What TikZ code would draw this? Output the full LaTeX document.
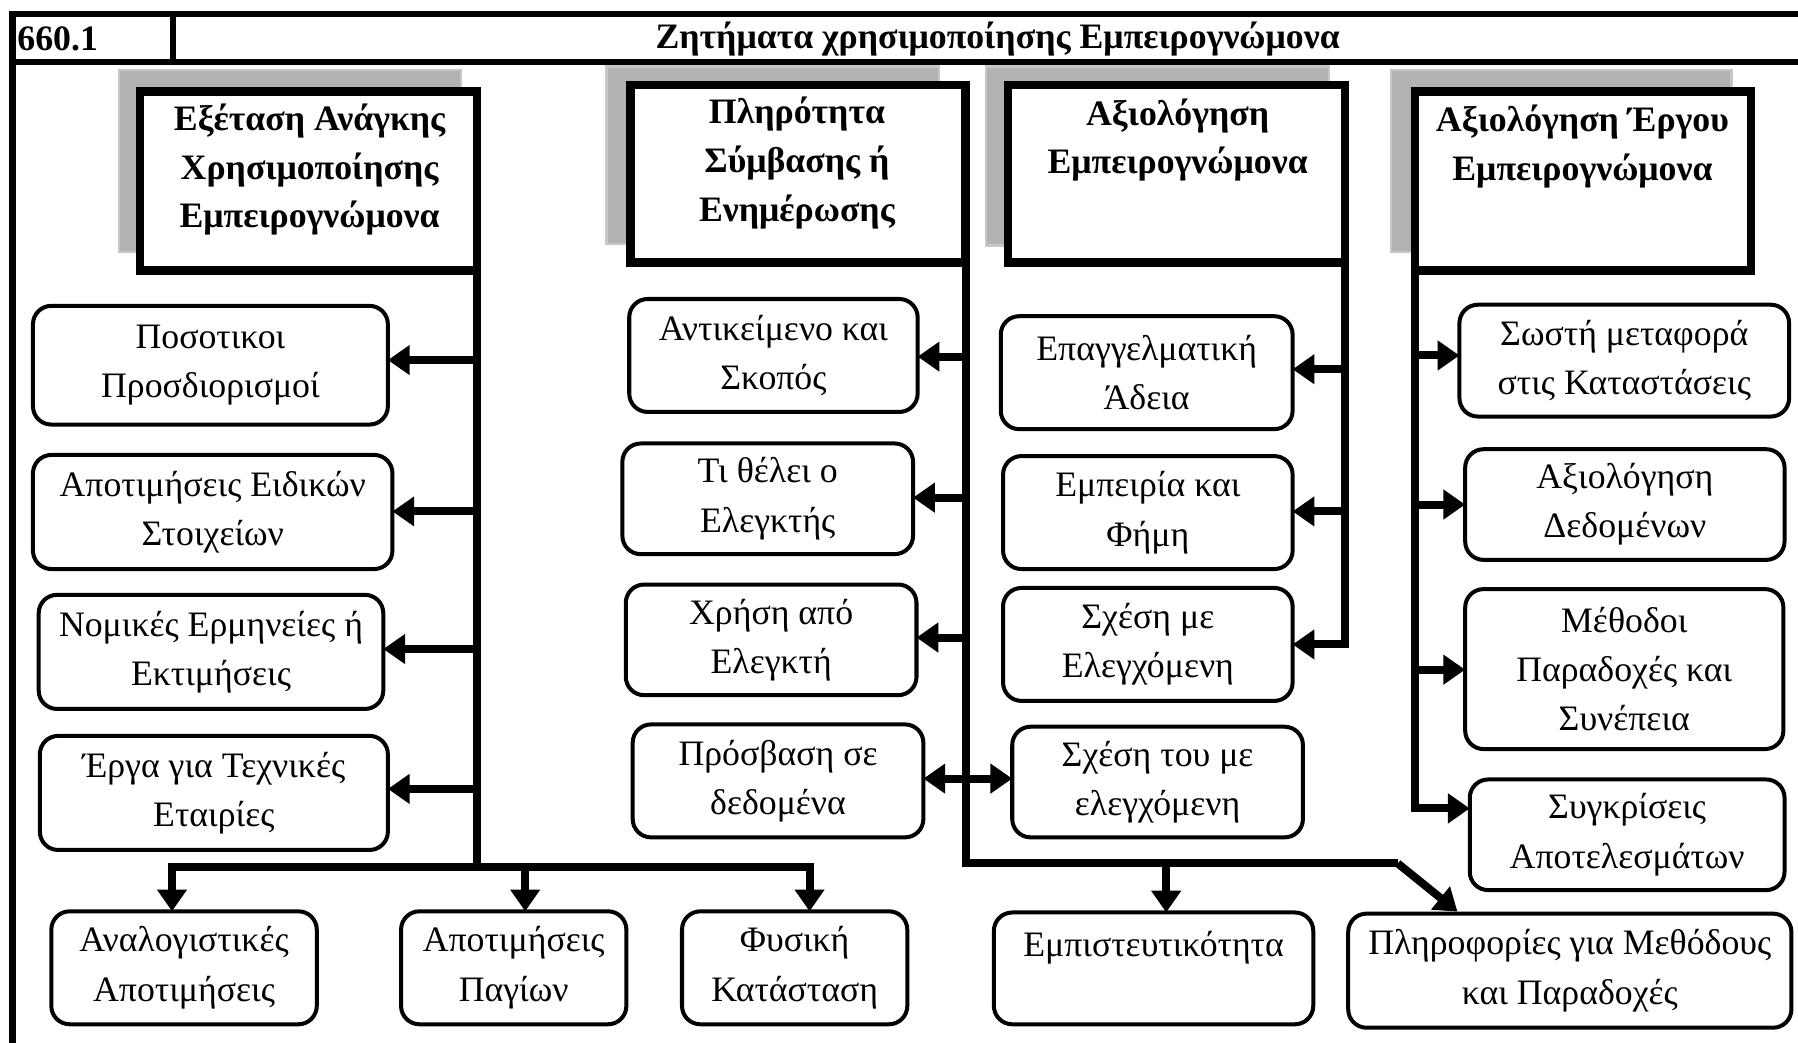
\documentclass[tikz,border=0pt]{standalone}
\usepackage{fontspec}
\setmainfont{Liberation Serif}
\usetikzlibrary{arrows.meta}
\begin{document}
\begin{tikzpicture}[x=1pt,y=-1pt,
  frame/.style={line width=5.5pt},
  shadowbox/.style={fill=black!30, draw=black!22, line width=2pt},
  hbox/.style={draw, line width=7.5pt, inner sep=0pt, outer sep=0pt, fill=white},
  htext/.style={align=center, font=\fontsize{31.2}{42.5}\selectfont\bfseries, inner sep=0pt},
  rbox/.style={draw, line width=3.5pt, rounded corners=16pt, inner sep=0pt, outer sep=0pt, align=center, font=\fontsize{31.2}{43}\selectfont, fill=white},
  conn/.style={line width=7pt},
  arr/.style={line width=7pt, -{Triangle[length=19pt,width=25pt]}},
  darr/.style={line width=7pt, {Triangle[length=19pt,width=25pt]}-{Triangle[length=19pt,width=25pt]}},
]
\useasboundingbox (0,0) rectangle (1568,909);
\fill[white] (0,0) rectangle (1568,909);
\clip (0,0) rectangle (1568,909);

% frame and header
\draw[frame] (11,12) rectangle (1600,940);
\draw[frame] (11,54) -- (1600,54);
\draw[frame] (151,12) -- (151,54);
\node[anchor=west, font=\fontsize{31.2}{36}\selectfont\bfseries, inner sep=0pt] (num) at (15,34) {660.1};
\node[font=\fontsize{31.2}{36}\selectfont\bfseries, inner sep=0pt] (title) at (870,34) {Ζητήματα χρησιμοποίησης Εμπειρογνώμονα};

% shadows
\fill[shadowbox] (104,61) rectangle (402,220);
\fill[shadowbox] (529,58) rectangle (819,213);
\fill[shadowbox] (860,58) rectangle (1159,214);
\fill[shadowbox] (1213,61) rectangle (1510,220);

% header boxes
\node[hbox, minimum width=294pt, minimum height=156pt] (h1) at (269,158) {};
\node[hbox, minimum width=292pt, minimum height=155pt] (h2) at (696,151.5) {};
\node[hbox, minimum width=294pt, minimum height=155pt] (h3) at (1026,151.5) {};
\node[hbox, minimum width=293pt, minimum height=156pt] (h4) at (1380.5,158) {};
\node[htext] (h1t) at (270,148) {Εξέταση Ανάγκης\\Χρησιμοποίησης\\Εμπειρογνώμονα};
\node[htext] (h2t) at (695,142) {Πληρότητα\\Σύμβασης ή\\Ενημέρωσης};
\node[htext] (h3t) at (1027,122) {Αξιολόγηση\\Εμπειρογνώμονα};
\node[htext] (h4t) at (1380,128) {Αξιολόγηση Έργου\\Εμπειρογνώμονα};

% column 1 children
\node[rbox, minimum width=309.5pt, minimum height=103.5pt] (c11) at (183.5,318.5) {Ποσοτικοι\\Προσδιορισμοί};
\node[rbox, minimum width=313.5pt, minimum height=99.5pt] (c12) at (185.5,446.5) {Αποτιμήσεις Ειδικών\\Στοιχείων};
\node[rbox, minimum width=300.5pt, minimum height=99.5pt] (c13) at (184,568.5) {Νομικές Ερμηνείες ή\\Εκτιμήσεις};
\node[rbox, minimum width=303.5pt, minimum height=99.5pt] (c14) at (186.5,691.5) {Έργα για Τεχνικές\\Εταιρίες};

% column 2 children
\node[rbox, minimum width=251.5pt, minimum height=98.5pt] (c21) at (674.5,310) {Αντικείμενο και\\Σκοπός};
\node[rbox, minimum width=253.5pt, minimum height=96.5pt] (c22) at (669.5,435) {Τι θέλει ο\\Ελεγκτής};
\node[rbox, minimum width=253.5pt, minimum height=96.5pt] (c23) at (672.5,558) {Χρήση από\\Ελεγκτή};
\node[rbox, minimum width=253.5pt, minimum height=98.5pt] (c24) at (678.5,681) {Πρόσβαση σε\\δεδομένα};

% column 3 children
\node[rbox, minimum width=254.5pt, minimum height=98.5pt] (c31) at (1000,325) {Επαγγελματική\\Άδεια};
\node[rbox, minimum width=252.5pt, minimum height=98.5pt] (c32) at (1001,447) {Εμπειρία και\\Φήμη};
\node[rbox, minimum width=252.5pt, minimum height=98.5pt] (c33) at (1001,562) {Σχέση με\\Ελεγχόμενη};
\node[rbox, minimum width=253.5pt, minimum height=96.5pt] (c34) at (1009.5,682) {Σχέση του με\\ελεγχόμενη};

% column 4 children
\node[rbox, minimum width=287.5pt, minimum height=97.5pt] (c41) at (1416.5,314.5) {Σωστή μεταφορά\\στις Καταστάσεις};
\node[rbox, minimum width=278.5pt, minimum height=96.5pt] (c42) at (1417,440) {Αξιολόγηση\\Δεδομένων};
\node[rbox, minimum width=277.5pt, minimum height=139.5pt] (c43) at (1416.5,583.5) {Μέθοδοι\\Παραδοχές και\\Συνέπεια};
\node[rbox, minimum width=274.5pt, minimum height=96.5pt] (c44) at (1419,728) {Συγκρίσεις\\Αποτελεσμάτων};

% bottom row
\node[rbox, minimum width=231.5pt, minimum height=98.5pt] (b1) at (160.5,844) {Αναλογιστικές\\Αποτιμήσεις};
\node[rbox, minimum width=196.5pt, minimum height=98.5pt] (b2) at (448,844) {Αποτιμήσεις\\Παγίων};
\node[rbox, minimum width=196.5pt, minimum height=98.5pt] (b3) at (693,844) {Φυσική\\Κατάσταση};
\node[rbox, minimum width=278.5pt, minimum height=97.5pt] (b4) at (1006,844.5) {Εμπιστευτικότητα\\\mbox{}};
\node[rbox, minimum width=386.5pt, minimum height=99.5pt] (b5) at (1369,846.5) {Πληροφορίες για Μεθόδους\\και Παραδοχές};

% connector coordinates
\coordinate (t1top) at (416,236);
\coordinate (t1bot) at (416,756);
\coordinate (busL) at (150,756);
\coordinate (busM) at (458,756);
\coordinate (busR) at (706,756);
\coordinate (t2top) at (842,229);
\coordinate (t2bot) at (842,753);
\coordinate (t2d) at (1017,753);
\coordinate (t2r) at (1219,753);
\coordinate (t2tip) at (1271,795);
\coordinate (t3top) at (1173,229);
\coordinate (t4top) at (1234,236);

% column 1 connectors
\draw[conn] (t1top) -- (t1bot);
\draw[conn, line cap=rect] (busL) -- (busR);
\draw[arr] (busL) -- (busL |- b1.north);
\draw[arr] (busM) -- (busM |- b2.north);
\draw[arr] (busR) -- (busR |- b3.north);
\draw[arr] (416,314) -- (c11.east |- 0,314);
\draw[arr] (416,446) -- (c12.east |- 0,446);
\draw[arr] (416,566) -- (c13.east |- 0,566);
\draw[arr] (416,688) -- (c14.east |- 0,688);

% column 2 connectors
\draw[conn] (t2top) -- (t2bot) -- (t2r);
\draw[arr] (t2r) -- (t2tip);
\draw[arr] (t2d) -- (t2d |- b4.north);
\draw[arr] (842,311) -- (c21.east |- 0,311);
\draw[arr] (842,434) -- (c22.east |- 0,434);
\draw[arr] (842,556) -- (c23.east |- 0,556);
\draw[darr] (c24.east |- 0,679) -- (c34.west |- 0,679);

% column 3 connectors
\draw[arr] (t3top) -- (1173,562) -- (c33.east |- 0,562);
\draw[arr] (1173,322) -- (c31.east |- 0,322);
\draw[arr] (1173,446) -- (c32.east |- 0,446);

% column 4 connectors
\draw[arr] (t4top) -- (1234,705) -- (c44.west |- 0,705);
\draw[arr] (1234,310) -- (c41.west |- 0,310);
\draw[arr] (1234,440) -- (c42.west |- 0,440);
\draw[arr] (1234,584) -- (c43.west |- 0,584);
\end{tikzpicture}
\end{document}
